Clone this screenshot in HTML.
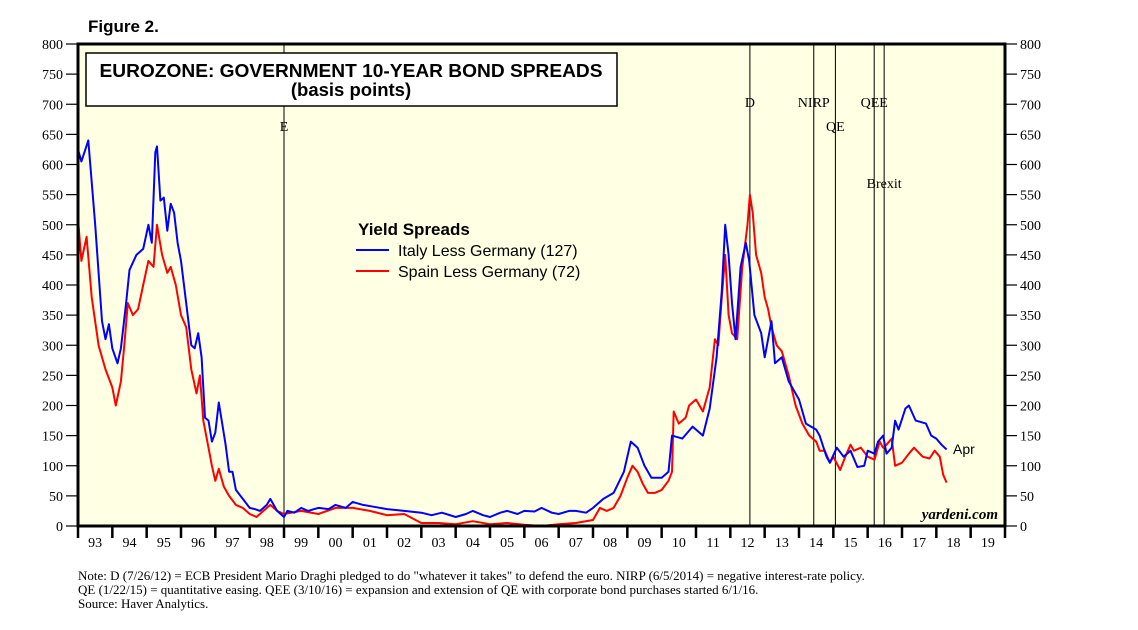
<!DOCTYPE html>
<html><head><meta charset="utf-8"><style>
body{margin:0;background:#fff;width:1138px;height:625px;overflow:hidden}
svg text{font-family:"Liberation Serif",serif}
.s{font-family:"Liberation Sans",sans-serif}
</style></head><body>
<svg id="c" width="1138" height="625" xmlns="http://www.w3.org/2000/svg">
<text x="88" y="32" class="s" font-size="17" font-weight="bold">Figure 2.</text>
<rect x="78" y="44" width="927" height="482" fill="#FFFFE3"/>
<g id="vl"></g>
<g id="series"></g>
<rect x="86" y="53" width="531" height="53" fill="#fff" stroke="#000" stroke-width="1.5"/>
<text x="351" y="77" class="s" font-size="18.5" font-weight="bold" text-anchor="middle" textLength="503" lengthAdjust="spacingAndGlyphs">EUROZONE: GOVERNMENT 10-YEAR BOND SPREADS</text>
<text x="351" y="96" class="s" font-size="18.5" font-weight="bold" text-anchor="middle">(basis points)</text>
<text x="358" y="235" class="s" font-size="17" font-weight="bold">Yield Spreads</text>
<line x1="356" y1="250" x2="389" y2="250" stroke="#00f" stroke-width="2"/>
<text x="398" y="256" class="s" font-size="16">Italy Less Germany (127)</text>
<line x1="356" y1="271" x2="389" y2="271" stroke="#f00" stroke-width="2"/>
<text x="398" y="277" class="s" font-size="16">Spain Less Germany (72)</text>
<text x="953" y="454" class="s" font-size="14">Apr</text>
<text x="998" y="519" font-size="15" font-style="italic" font-weight="bold" text-anchor="end">yardeni.com</text>
<rect x="78" y="44" width="927" height="482" fill="none" stroke="#000" stroke-width="3"/>
<g id="axes"></g>
<text x="78" y="580" font-size="13">Note: D (7/26/12) = ECB President Mario Draghi pledged to do "whatever it takes" to defend the euro. NIRP (6/5/2014) = negative interest-rate policy.</text>
<text x="78" y="594" font-size="13">QE (1/22/15) = quantitative easing. QEE (3/10/16) = expansion and extension of QE with corporate bond purchases started 6/1/16.</text>
<text x="78" y="608" font-size="13">Source: Haver Analytics.</text>
</svg>
<script>
const yTicks=[0,50,100,150,200,250,300,350,400,450,500,550,600,650,700,750,800];
const yearLabels=["93","94","95","96","97","98","99","00","01","02","03","04","05","06","07","08","09","10","11","12","13","14","15","16","17","18","19"];
const eventNames=["E","D","NIRP","QE","QEE","Brexit"];
const eventDates=[1999.0,2012.57,2014.43,2015.06,2016.19,2016.48];
const eventLabelY=[131,107,107,131,107,188];
const italyDates=[1993.0,1993.1,1993.3,1993.5,1993.7,1993.8,1993.9,1994.0,1994.15,1994.25,1994.4,1994.5,1994.7,1994.9,1995.05,1995.15,1995.25,1995.3,1995.4,1995.5,1995.6,1995.7,1995.8,1995.9,1996.0,1996.15,1996.3,1996.4,1996.5,1996.6,1996.7,1996.8,1996.9,1997.0,1997.1,1997.2,1997.3,1997.4,1997.5,1997.6,1997.8,1998.0,1998.15,1998.3,1998.5,1998.6,1998.8,1999.0,1999.1,1999.3,1999.5,1999.7,2000.0,2000.3,2000.5,2000.8,2001.0,2001.3,2001.6,2002.0,2002.5,2003.0,2003.3,2003.6,2004.0,2004.3,2004.5,2004.8,2005.0,2005.3,2005.5,2005.8,2006.0,2006.3,2006.5,2006.8,2007.0,2007.3,2007.5,2007.8,2008.0,2008.3,2008.6,2008.9,2009.1,2009.3,2009.5,2009.7,2010.0,2010.2,2010.3,2010.6,2010.9,2011.2,2011.4,2011.6,2011.75,2011.85,2011.95,2012.05,2012.15,2012.3,2012.45,2012.55,2012.7,2012.9,2013.0,2013.2,2013.3,2013.5,2013.7,2014.0,2014.2,2014.5,2014.6,2014.8,2014.9,2015.1,2015.3,2015.5,2015.7,2015.9,2016.0,2016.2,2016.3,2016.45,2016.55,2016.7,2016.8,2016.9,2017.1,2017.2,2017.4,2017.7,2017.85,2018.0,2018.15,2018.3];
const italyValues=[625,605,640,500,340,310,335,295,270,295,370,425,450,460,500,470,620,630,540,545,490,535,520,470,440,370,300,295,320,280,180,175,140,155,205,170,135,90,90,60,45,30,28,25,35,45,25,15,25,22,30,25,30,28,35,30,40,35,32,28,25,22,18,22,15,20,25,18,15,22,25,20,25,24,30,22,20,25,25,22,30,45,55,90,140,130,100,80,80,90,150,145,165,150,195,280,390,500,450,370,310,430,470,440,350,320,280,340,270,280,240,210,170,160,150,115,105,130,115,125,98,100,125,120,140,150,120,130,175,160,195,200,175,170,150,145,135,127];
const spainDates=[1993.0,1993.1,1993.25,1993.4,1993.6,1993.8,1994.0,1994.1,1994.25,1994.35,1994.45,1994.6,1994.75,1994.9,1995.05,1995.2,1995.3,1995.45,1995.6,1995.7,1995.85,1996.0,1996.15,1996.3,1996.45,1996.55,1996.65,1996.8,1996.9,1997.0,1997.1,1997.25,1997.4,1997.6,1997.8,1998.0,1998.2,1998.4,1998.6,1998.8,1999.0,1999.5,2000.0,2000.5,2001.0,2001.5,2002.0,2002.5,2003.0,2003.5,2004.0,2004.5,2005.0,2005.5,2006.0,2006.5,2007.0,2007.5,2008.0,2008.2,2008.4,2008.6,2008.8,2009.0,2009.15,2009.3,2009.45,2009.6,2009.8,2010.0,2010.2,2010.3,2010.35,2010.5,2010.7,2010.8,2011.0,2011.2,2011.4,2011.55,2011.65,2011.75,2011.85,2011.95,2012.05,2012.2,2012.35,2012.5,2012.57,2012.65,2012.75,2012.9,2013.0,2013.1,2013.2,2013.35,2013.5,2013.7,2013.9,2014.1,2014.3,2014.5,2014.6,2014.75,2014.9,2015.0,2015.2,2015.35,2015.5,2015.6,2015.8,2016.0,2016.2,2016.35,2016.45,2016.55,2016.7,2016.8,2017.0,2017.2,2017.35,2017.6,2017.8,2017.95,2018.1,2018.2,2018.3];
const spainValues=[510,440,480,380,300,260,230,200,240,300,370,350,360,400,440,430,500,450,420,430,400,350,330,260,220,250,175,130,100,75,95,65,50,35,30,20,15,25,35,25,20,25,20,30,30,25,18,20,5,5,3,8,3,5,2,0,3,5,10,30,25,30,50,80,100,90,70,55,55,60,75,90,190,170,180,200,210,190,230,310,300,380,450,350,320,310,430,500,550,520,450,420,380,360,330,300,290,250,200,170,150,140,125,125,105,115,93,115,135,125,130,115,110,140,130,135,145,100,105,120,130,115,112,125,115,85,72];
const X0=78,X1=1005,Y0=526,Y1=44,yr0=1993,yr1=2020;
const xs=d=>X0+(d-yr0)/(yr1-yr0)*(X1-X0);
const ys=v=>Y0-v/800*(Y0-Y1);
const NS="http://www.w3.org/2000/svg";
function mk(t,a,p){const e=document.createElementNS(NS,t);for(const k in a)e.setAttribute(k,a[k]);p.appendChild(e);return e;}
const ax=document.getElementById('axes');
yTicks.forEach(v=>{
  const y=ys(v);
  let l=mk('line',{x1:66,x2:X0,y1:y,y2:y,stroke:'#000','stroke-width':1.2},ax);
  
  
  let r=mk('line',{x1:X1,x2:1017,y1:y,y2:y,stroke:'#000','stroke-width':1.2},ax);
  
  
  let t=mk('text',{x:63,y:y+5,'font-size':14,'text-anchor':'end'},ax);t.textContent=v;
  
  
  let t2=mk('text',{x:1020,y:y+5,'font-size':14},ax);t2.textContent=v;
  
  
});
yearLabels.forEach((lab,i)=>{
  const x=xs(yr0+i);
  let l=mk('line',{x1:x,x2:x,y1:Y0,y2:Y0+12,stroke:'#000','stroke-width':2.5},ax);
  
  
  let t=mk('text',{x:xs(yr0+i+0.5),y:Y0+21,'font-size':14,'text-anchor':'middle'},ax);t.textContent=lab;
  
  
});
let le=mk('line',{x1:X1,x2:X1,y1:Y0,y2:Y0+12,stroke:'#000','stroke-width':2.5},ax);


const vl=document.getElementById('vl');
eventNames.forEach((n,i)=>{
  const x=xs(eventDates[i]);
  let l=mk('line',{x1:x,x2:x,y1:Y1,y2:Y0,stroke:'#000','stroke-width':1},vl);
  
  
  let t=mk('text',{x:x,y:eventLabelY[i],'font-size':14,'text-anchor':'middle',fill:'#000'},vl);t.textContent=n;
  
  
});
const sg=document.getElementById('series');
function line(d,v,c,name){
  const pts=d.map((x,i)=>xs(x).toFixed(1)+','+ys(v[i]).toFixed(1)).join(' ');
  let p=mk('polyline',{points:pts,fill:'none',stroke:c,'stroke-width':2,'stroke-linejoin':'round'},sg);
  
  
}
line(spainDates,spainValues,'#f00','spain-series');
line(italyDates,italyValues,'#00f','italy-series');
</script>
</body></html>
